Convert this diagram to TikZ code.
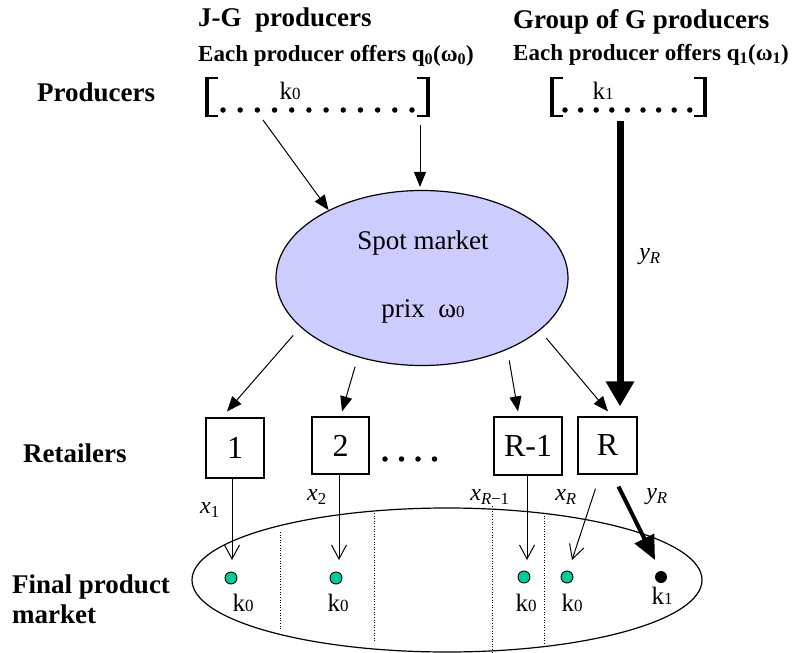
\documentclass[tikz,border=0pt]{standalone}
\usepackage{fontspec}
\setmainfont{Liberation Serif}
\usetikzlibrary{arrows.meta,shapes.geometric,calc}
\definecolor{spotfill}{HTML}{CCCCFF}
\definecolor{dotgreen}{HTML}{00CC99}
\newcommand{\smz}[1]{{\fontsize{17}{20}\selectfont #1}}
\begin{document}
\begin{tikzpicture}[x=1pt,y=-1pt,
  lbl/.style={font=\fontsize{27}{30}\selectfont\bfseries, inner sep=0pt, anchor=base west},
  sublbl/.style={font=\fontsize{23}{26}\selectfont\bfseries, inner sep=0pt, anchor=base west},
  retail/.style={draw, line width=1.2pt, inner sep=0pt, font=\fontsize{32}{36}\selectfont},
  kl/.style={font=\fontsize{25}{28}\selectfont, inner sep=0pt, anchor=base},
  flowlbl/.style={font=\fontsize{24}{26}\selectfont\itshape, inner sep=0pt},
  thinarrow/.style={line width=1pt, -{Triangle[length=15pt,width=12pt]}},
  openarrow/.style={line width=1pt, -{Straight Barb[length=14pt,width=15pt,line width=1pt]}},
  thickarrow/.style={line width=7pt, -{Triangle[length=25pt,width=27pt]}},
  midarrow/.style={line width=4pt, -{Triangle[length=24pt,width=21pt]}},
  bar/.style={line width=3.5pt},
  arm/.style={line width=2pt},
  pooldot/.style={circle, fill=black, inner sep=0pt, minimum size=5.5pt},
  greendot/.style={circle, draw, fill=dotgreen, line width=0.9pt, inner sep=0pt, minimum size=12pt},
  blackdot/.style={circle, fill=black, inner sep=0pt, minimum size=12pt},
  divider/.style={line width=0.9pt, dash pattern=on 1pt off 1.6pt}
]
\useasboundingbox (0,0) rectangle (793,653);

% headings
\node[lbl] (hjg) at (198,27) {J-G\ \ producers};
\node[sublbl] (ojg) at (198,61) {Each producer offers q\textsubscript{0}(ω\textsubscript{0})};
\node[lbl] (hg) at (513,28) {Group of G producers};
\node[sublbl] (og) at (513,60) {Each producer offers q\textsubscript{1}(ω\textsubscript{1})};
\node[lbl] (lprod) at (37,101) {Producers};
\node[lbl] (lret) at (23,462) {Retailers};
\node[lbl] (lfin) at (12,593) {Final product};
\node[lbl] (lmkt) at (12,623) {market};

% bracket 1
\draw[bar] (207,77) -- (207,117);
\draw[arm] (206,78) -- (218,78) (206,116) -- (218,116);
\draw[bar] (428,77) -- (428,117);
\draw[arm] (429,78) -- (417,78) (429,116) -- (417,116);
\foreach \i in {0,...,11} \node[pooldot] (pa\i) at ({223+\i*17.18},110) {};
\node[kl] (k0top) at (290,99) {k\smz{0}};
% bracket 2
\draw[bar] (552,77) -- (552,117);
\draw[arm] (551,78) -- (563,78) (551,116) -- (563,116);
\draw[bar] (705,77) -- (705,117);
\draw[arm] (706,78) -- (694,78) (706,116) -- (694,116);
\foreach \i in {0,...,8} \node[pooldot] (pb\i) at ({565+\i*15.6},110) {};
\node[kl] (k1top) at (603,99) {k\smz{1}};

% spot market
\node[ellipse, draw, fill=spotfill, line width=1.2pt, minimum width=292pt, minimum height=175pt, inner sep=0pt] (spot) at (422,278) {};
\node[font=\fontsize{27}{30}\selectfont, inner sep=0pt, anchor=base] (spott) at (423,249) {Spot market};
\node[font=\fontsize{27}{30}\selectfont, inner sep=0pt, anchor=base] (prix) at (423,317) {prix\ \ ω\smz{0}};

\coordinate (sa) at (263,120);
\coordinate (sb) at (420,125);
\coordinate (sc) at (620,121);
\draw[thinarrow] (sa) -- (spot.144);
\draw[thinarrow] (sb) -- ([xshift=-2pt,yshift=3pt]spot.north);

% retailers
\node[retail, minimum width=58pt, minimum height=60pt] (b1) at (235,448) {1};
\node[retail, minimum width=57pt, minimum height=57pt] (b2) at (340.5,445.5) {2};
\node[retail, minimum width=68pt, minimum height=58pt] (bR1) at (528,446) {R-1};
\node[retail, minimum width=59pt, minimum height=57pt] (bR) at (607.5,445.5) {R};
\foreach \i in {0,...,3} \node[circle, fill=black, inner sep=0pt, minimum size=5.5pt] (rd\i) at ({385+\i*16.5},459) {};

\draw[thinarrow, shorten <=11pt] (spot.202) -- ([xshift=-8pt,yshift=6pt]b1.north);
\draw[thinarrow, shorten <=10pt] (spot.231) -- ([xshift=1.5pt,yshift=5pt]b2.north);
\draw[thinarrow, shorten <=11pt] (spot.320) -- ([xshift=-10pt,yshift=5pt]bR1.north);
\draw[thinarrow, shorten <=10pt] (spot.336) -- ([xshift=0.5pt,yshift=5pt]bR.north);
\draw[thickarrow] (sc) -- ([xshift=12.5pt,yshift=10pt]bR.north);
\node[flowlbl] (yRt) at (650,257) {y\textsubscript{R}};

% final market
\node[ellipse, draw, line width=1.2pt, minimum width=510pt, minimum height=144pt, inner sep=0pt] (fin) at (447,580) {};
\draw[divider] (280,532) -- (280,630);
\draw[divider] (374,513) -- (374,642);
\draw[divider] (492,506) -- (492,653);
\draw[divider] (544,513) -- (544,647);

\node[greendot] (d1) at (231,578) {};
\node[greendot] (d2) at (336,578) {};
\node[greendot] (d3) at (524,577) {};
\node[greendot] (d4) at (567,577) {};
\node[blackdot] (d5) at (661,577) {};
\node[kl] (k01) at (243,611) {k\smz{0}};
\node[kl] (k02) at (338,611) {k\smz{0}};
\node[kl] (k03) at (526,611) {k\smz{0}};
\node[kl] (k04) at (572,611) {k\smz{0}};
\node[kl] (k1b) at (662,604) {k\smz{1}};

\draw[openarrow] ([xshift=-3pt]b1.south) -- ([xshift=1pt,yshift=18pt]d1.center);
\draw[openarrow] ([xshift=-1.5pt]b2.south) -- ([xshift=3pt,yshift=18pt]d2.center);
\draw[openarrow] ([xshift=-1pt]bR1.south) -- ([xshift=3pt,yshift=17pt]d3.center);
\draw[openarrow] ([xshift=-12pt,yshift=-14pt]bR.south) -- ([xshift=5pt,yshift=17pt]d4.center);
\draw[midarrow] ([xshift=11pt,yshift=-12pt]bR.south) -- ([xshift=-6pt,yshift=17pt]d5.center);

\node[flowlbl] (x1) at (210,510) {x\textsubscript{\upshape 1}};
\node[flowlbl] (x2) at (317,497) {x\textsubscript{\upshape 2}};
\node[flowlbl] (xR1) at (490,497) {x\textsubscript{R{\upshape −1}}};
\node[flowlbl] (xR) at (566,497) {x\textsubscript{R}};
\node[flowlbl] (yRb) at (657,497) {y\textsubscript{R}};
\end{tikzpicture}
\end{document}
